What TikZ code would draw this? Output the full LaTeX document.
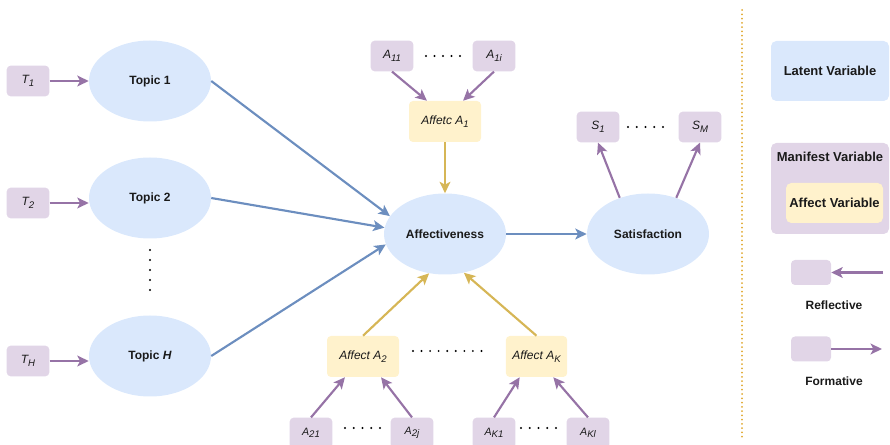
\documentclass[tikz,border=0pt]{standalone}
\usepackage{fontspec}
\setmainfont{Liberation Sans}
\usetikzlibrary{arrows.meta,positioning,shapes.geometric}
\definecolor{pInk}{HTML}{1A1A1A}
\definecolor{pLatent}{HTML}{DAE8FC}
\definecolor{pManifest}{HTML}{E1D5E7}
\definecolor{pAffect}{HTML}{FFF2CC}
\definecolor{pBlue}{HTML}{6C8EBF}
\definecolor{pPurple}{HTML}{9673A6}
\definecolor{pGold}{HTML}{D6B656}
\definecolor{pSep}{HTML}{E0A82E}
\newcommand{\vsub}[2]{\textit{#1\raisebox{-0.4ex}{\fontsize{7.2}{8}\selectfont #2}}}

\begin{document}
\begin{tikzpicture}[
  x=0.75pt, y=-0.75pt,
  font=\fontsize{9}{11}\selectfont, text=pInk,
  >={Stealth[length=8.5pt, width=8pt, inset=2pt]},
  lat/.style={ellipse, fill=pLatent, minimum width=91.5pt, minimum height=60.75pt,
              inner sep=0pt, font=\fontsize{9}{11}\selectfont\bfseries},
  man/.style={rectangle, rounded corners=3pt, fill=pManifest, minimum width=32pt,
              minimum height=23pt, inner sep=0pt, font=\fontsize{9}{11}\selectfont\itshape},
  aff/.style={rectangle, rounded corners=3pt, fill=pAffect, minimum width=54pt,
              minimum height=30.75pt, inner sep=0pt, font=\fontsize{9}{11}\selectfont\itshape},
  leg/.style={rectangle, rounded corners=4pt, minimum width=88.5pt, inner sep=0pt,
              font=\fontsize{9.75}{12}\selectfont\bfseries},
  lab/.style={inner sep=0pt, font=\fontsize{9}{11}\selectfont\bfseries},
  pur/.style={->, line width=1.6pt, draw=pPurple},
  blu/.style={->, line width=1.6pt, draw=pBlue},
  gld/.style={->, line width=1.6pt, draw=pGold},
  dotrow/.style={line width=1.6pt, line cap=round, dash pattern=on 0pt off #1},
]
\useasboundingbox (0,0) rectangle (890,445);

% topics
\node[lat] (top1) at (150,81) {Topic 1};
\node[lat] (top2) at (150,198) {Topic 2};
\node[lat] (toph) at (150,356) {Topic \textit{H}};
\node[man] (t1) at (28,81) {\vsub{T}{1}};
\node[man] (t2) at (28,203) {\vsub{T}{2}};
\node[man] (th) at (28,361) {\vsub{T}{H}};
\draw[pur] (t1) -- (top1);
\draw[pur] (t2) -- (top2.west |- t2);
\draw[pur] (th) -- (toph.west |- th);
\draw[dotrow=7.5pt] (150,250) -- (150,300);

% centre
\node[lat] (affv) at (445,234) {Affectiveness};
\node[lat] (sat) at (648,234) {Satisfaction};
\draw[blu] (top1.east) -- (affv.162);
\draw[blu] (top2.east) -- (affv.174);
\draw[blu] (toph.east) -- (affv.190);
\draw[blu] (affv) -- (sat);

% satisfaction indicators
\node[man] (s1) at (598,127) {\vsub{S}{1}};
\node[man] (sm) at (700,127) {\vsub{S}{M}};
\draw[pur] (sat.128) -- (s1.south);
\draw[pur] (sat.52) -- (sm.south);
\draw[dotrow=6.5625pt] (628,127) -- (663,127);

% affect 1
\node[aff] (a1) at (445,121.5) {Affetc \vsub{A}{1}};
\node[man] (a11) at (392,56) {\vsub{A}{11}};
\node[man] (a1i) at (494,56) {\vsub{A}{1i}};
\draw[pur] (a11.south) -- (a1.131);
\draw[pur] (a1i.south) -- (a1.49);
\draw[dotrow=6.375pt] (426,56) -- (460,56);
\draw[gld] (a1) -- (affv);

% affect 2 .. K
\node[aff] (a2) at (363,356.5) {Affect \vsub{A}{2}};
\node[aff, minimum width=46pt] (ak) at (536.5,356.5) {Affect \vsub{A}{K}};
\draw[gld] (a2.north) -- (affv.248);
\draw[gld] (ak.north) -- (affv.296);
\draw[dotrow=6.4167pt] (413,351) -- (490,351);
\node[man, font=\fontsize{8}{10}\selectfont\itshape] (a21) at (311,433) {\vsub{A}{21}};
\node[man, font=\fontsize{8}{10}\selectfont\itshape] (a2j) at (412,433) {\vsub{A}{2j}};
\node[man, font=\fontsize{8}{10}\selectfont\itshape] (ak1) at (494,433) {\vsub{A}{K1}};
\node[man, font=\fontsize{8}{10}\selectfont\itshape] (akl) at (588,433) {\vsub{A}{Kl}};
\draw[pur] (a21.north) -- (a2.229);
\draw[pur] (a2j.north) -- (a2.311);
\draw[pur] (ak1.north) -- (ak.231);
\draw[pur] (akl.north) -- (ak.309);
\draw[dotrow=6.5625pt] (345,428) -- (380,428);
\draw[dotrow=6.5625pt] (521,428) -- (556,428);

% legend
\draw[pSep, line width=1.5pt, line cap=round, dash pattern=on 0pt off 3.2pt] (742,10) -- (742,440);
\node[leg, fill=pLatent, minimum height=45pt] (legLat) at (830,71) {Latent Variable};
\node[leg, fill=pManifest, minimum height=68.25pt] (legMan) at (830,188.5) {};
\node[lab, font=\fontsize{9.75}{12}\selectfont\bfseries] (legManL) at (830,157) {Manifest Variable};
\node[leg, fill=pAffect, minimum width=72.75pt, minimum height=30pt] (legAff) at (834.5,203) {Affect Variable};
\node[man, minimum width=30pt, minimum height=18.75pt] (rfl) at (811,272.5) {};
\coordinate (rflA) at (883,272.5);
\draw[pur] (rflA) -- (rfl);
\node[lab] (rflL) at (834,305) {Reflective};
\node[man, minimum width=30pt, minimum height=18.75pt] (frm) at (811,349) {};
\coordinate (frmA) at (882,349);
\draw[pur] (frm) -- (frmA);
\node[lab] (frmL) at (834,381) {Formative};

\end{tikzpicture}
\end{document}
